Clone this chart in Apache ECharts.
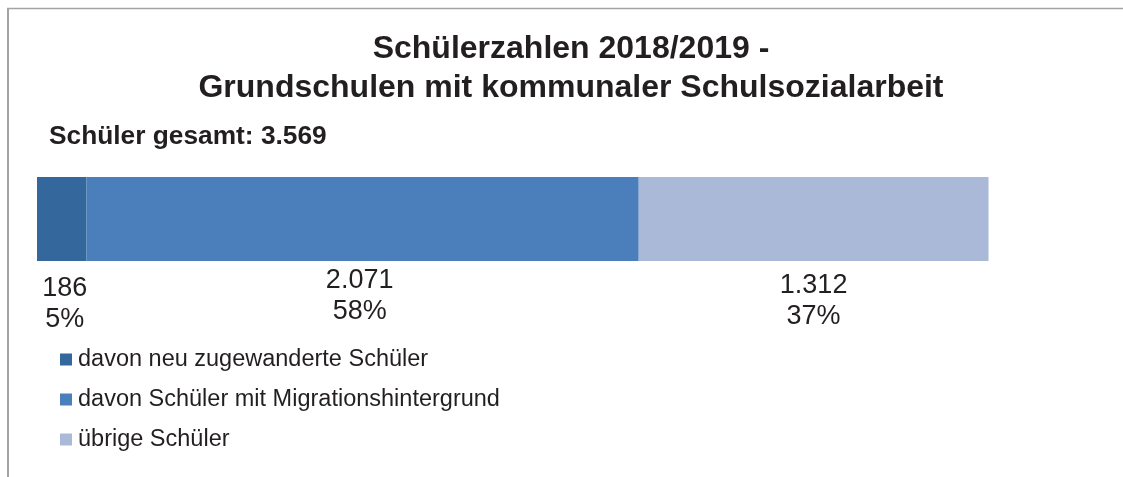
<!DOCTYPE html>
<html>
<head>
<meta charset="utf-8">
<script src="https://cdn.jsdelivr.net/npm/echarts@6/dist/echarts.min.js"></script>
<style>
    html, body { margin: 0; padding: 0; background: #ffffff; }
    #chart { width: 1123px; height: 477px; }
</style>
</head>
<body>
<div id="chart"></div>
<script>
// data
const categories = ['Schüler'];
const seriesNames = [
    'davon neu zugewanderte Schüler',
    'davon Schüler mit Migrationshintergrund',
    'übrige Schüler'
];
const seriesValues = [186, 2071, 1312];
const titleLines = ['Schülerzahlen 2018/2019 -', 'Grundschulen mit kommunaler Schulsozialarbeit'];
const totalPrefix = 'Schüler gesamt: ';

// styles
const barColors = ['#34679b', '#4a7fbc', '#aab9d8'];
const labelDistance = [12, 4, 9];
const labelShiftX = [3, -3, 0];
const textColor = '#231f20';
const fontFamily = '"Liberation Sans", Arial, sans-serif';

const total = seriesValues.reduce((a, b) => a + b, 0);

// 3569 -> "3.569"
function formatNumber(v) {
    return String(v).replace(/\B(?=(\d{3})+(?!\d))/g, '.');
}

function buildSeries() {
    return seriesNames.map((name, i) => ({
        type: 'bar',
        name: name,
        stack: 'total',
        barWidth: 84,
        data: [seriesValues[i]],
        itemStyle: { color: barColors[i] },
        label: {
            show: true,
            position: 'bottom',
            distance: labelDistance[i],
            offset: [labelShiftX[i], 0],
            color: textColor,
            fontFamily: fontFamily,
            fontSize: 27,
            lineHeight: 31,
            formatter: p => formatNumber(p.value) + '\n' + Math.round(p.value / total * 100) + '%'
        }
    }));
}

function initChart() {
    const myChart = echarts.init(document.getElementById('chart'));
    const option = {
        animation: false,
        title: [
            {
                text: titleLines.join('\n'),
                left: 571,
                top: 30,
                textAlign: 'center',
                padding: 0,
                textStyle: {
                    fontFamily: fontFamily,
                    fontSize: 32,
                    fontWeight: 'bold',
                    lineHeight: 39,
                    color: textColor
                }
            },
            {
                text: totalPrefix + formatNumber(total),
                left: 49,
                top: 124,
                padding: 0,
                textStyle: {
                    fontFamily: fontFamily,
                    fontSize: 26.3,
                    fontWeight: 'bold',
                    lineHeight: 26,
                    color: textColor
                }
            }
        ],
        legend: {
            orient: 'vertical',
            left: 60,
            top: 345.5,
            itemWidth: 12,
            itemHeight: 12,
            itemGap: 12,
            icon: 'rect',
            padding: 0,
            textStyle: {
                fontFamily: fontFamily,
                fontSize: 23.5,
                lineHeight: 28,
                color: textColor,
                padding: [0, 0, 0, 1]
            },
            data: seriesNames
        },
        grid: { left: 37, width: 951.5, top: 177, height: 84 },
        xAxis: { type: 'value', min: 0, max: total, show: false },
        yAxis: { type: 'category', data: categories, show: false },
        series: buildSeries(),
        // frame lines (top and left)
        graphic: [
            { type: 'line', shape: { x1: 7, y1: 8.5, x2: 1123, y2: 8.5 }, style: { stroke: '#a3a3a3', lineWidth: 1.5 } },
            { type: 'line', shape: { x1: 8, y1: 8, x2: 8, y2: 477 }, style: { stroke: '#a3a3a3', lineWidth: 2 } }
        ]
    };
    myChart.setOption(option);
}

initChart();
</script>
</body>
</html>
